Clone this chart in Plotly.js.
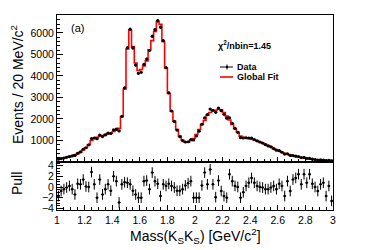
<!DOCTYPE html>
<html>
<head>
<meta charset="utf-8">
<script src="https://cdn.plot.ly/plotly-3.0.1.min.js"></script>
<style>html,body{margin:0;padding:0;background:#fff;}#chart{width:374px;height:250px;}</style>
</head>
<body>
<div id="chart"></div>
<script>
// Histogram binning: 100 bins of 20 MeV from 1.0 to 3.0 GeV/c^2
const massMin = 1.0;
const binWidth = 0.02;
const nBins = 100;

// Data (events per bin)
const dataCounts = [
  130,160,185,219,253,283,305,402,470,593,
  663,800,1090,1116,1082,1249,1181,1256,1338,1324,
  1495,1523,1445,2123,3442,5308,6169,5299,4505,4120,
  4170,4534,4782,5181,5843,6146,6568,6264,5637,4383,
  3214,2370,1886,1483,1176,997,929,941,1035,1024,
  1208,1432,1753,2049,2203,2458,2404,2307,2509,2383,
  2218,2038,2056,1796,1558,1380,1131,1116,1127,1116,
  1115,1046,986,930,877,809,749,707,625,551,
  524,454,366,381,307,303,277,256,207,212,
  170,168,132,115,92,95,92,65,77,48
];

// Global fit (expected events per bin)
const fitCounts = [
  150,170,190,220,250,290,330,390,460,560,
  660,800,1000,1100,1150,1200,1230,1270,1320,1350,
  1420,1480,1560,2100,3390,5250,6130,5350,4600,4250,
  4300,4460,4700,5210,5640,6060,6520,6400,5600,4370,
  3180,2360,1890,1510,1200,1010,920,920,1000,1090,
  1280,1510,1740,1930,2180,2300,2380,2400,2450,2420,
  2300,2130,1950,1750,1550,1380,1200,1150,1120,1090,
  1060,1020,980,930,880,820,760,710,620,560,
  510,450,400,360,320,280,250,220,200,180,
  160,140,125,115,100,90,85,80,75,70
];

// Pull per bin
const pulls = [
  -1.7,-0.75,-0.4,-0.1,0.2,-0.4,-1.4,0.6,0.5,1.4,
  0.1,0,2.8,0.5,-2,1.4,-1.4,-0.4,0.5,-0.7,
  2.0,1.1,-2.9,0.5,0.9,0.8,0.5,-0.7,-1.4,-2,
  -2,1.1,1.2,-0.4,2.7,1.1,0.6,-1.7,0.5,0.2,
  0.6,0.2,-0.1,-0.7,-0.7,-0.4,0.3,0.7,1.1,-2,
  -2,-2,0.3,2.7,0.5,3.3,0.5,-1.9,1.2,-0.75,
  -1.7,-2,2.4,1.1,0.2,0,-2,-1,0.2,0.8,
  1.7,0.8,0.2,0,-0.1,-0.4,-0.4,-0.1,0.2,-0.4,
  0.6,0.2,-1.7,1.1,-0.75,1.4,1.7,2.4,0.5,2.4,
  0.8,2.4,0.6,0,-0.75,0.5,0.8,-1.7,0.2,-2.6
];

const xTickVals = [1,1.2,1.4,1.6,1.8,2,2.2,2.4,2.6,2.8,3];
const xTickText = ['1','1.2','1.4','1.6','1.8','2','2.2','2.4','2.6','2.8','3'];
const yTopTickVals = [1000,2000,3000,4000,5000,6000];
const yPullTickVals = [-4,-2,0,2,4];

// bin grid
const centers = [];
const edges = [];
for (let i = 0; i < nBins; i++) {
  edges.push(+(massMin + i * binWidth).toFixed(4));
  centers.push(+(massMin + (i + 0.5) * binWidth).toFixed(4));
}
edges.push(+(massMin + nBins * binWidth).toFixed(4));
const fitStep = fitCounts.concat([fitCounts[fitCounts.length - 1]]);

const FONT = 'Liberation Sans, Arial, Helvetica, sans-serif';

const traces = [
  {
    x: edges, y: fitStep, xaxis: 'x2', yaxis: 'y',
    type: 'scatter', mode: 'lines', line: {shape: 'hv', color: '#ff0000', width: 1.6},
    hoverinfo: 'skip', showlegend: false
  },
  {
    x: centers, y: dataCounts, xaxis: 'x2', yaxis: 'y',
    type: 'scatter', mode: 'markers',
    marker: {color: '#000', size: 3.2},
    error_y: {type: 'sqrt', color: '#000', thickness: 1, width: 0},
    error_x: {type: 'constant', value: binWidth / 2, color: '#000', thickness: 1, width: 0},
    showlegend: false
  },
  {
    x: centers, y: pulls, xaxis: 'x', yaxis: 'y2',
    type: 'scatter', mode: 'markers',
    marker: {color: '#000', size: 2.5},
    error_y: {type: 'constant', value: 1, color: '#000', thickness: 1, width: 0},
    error_x: {type: 'constant', value: binWidth / 2, color: '#000', thickness: 1, width: 0},
    showlegend: false
  }
];

const L = 57, R = 333, T = 15, B = 210;
const px = v => (v - L) / (R - L);
const py = v => (B - v) / (B - T);

const layout = {
  width: 374, height: 250,
  margin: {l: L, r: 374 - R, t: T, b: 250 - B},
  paper_bgcolor: '#fff', plot_bgcolor: '#fff',
  font: {family: FONT, size: 11, color: '#000'},
  showlegend: false,
  xaxis: {
    anchor: 'y2', domain: [0, 1], range: [1, 3],
    tickvals: xTickVals, ticktext: xTickText,
    ticks: 'inside', ticklen: 5, tickcolor: '#000', tickwidth: 1,
    minor: {dtick: 0.05, ticks: 'inside', ticklen: 3, tickcolor: '#000', showgrid: false},
    showline: true, linecolor: '#000', linewidth: 1, mirror: true,
    showgrid: false, zeroline: false,
    tickfont: {family: FONT, size: 10.5, color: '#000'}
  },
  xaxis2: {
    anchor: 'y', matches: 'x', range: [1, 3], showticklabels: false,
    tickvals: xTickVals,
    ticks: 'inside', ticklen: 5, tickcolor: '#000', tickwidth: 1,
    minor: {dtick: 0.05, ticks: 'inside', ticklen: 3, tickcolor: '#000', showgrid: false},
    showline: true, linecolor: '#000', linewidth: 1, mirror: true,
    showgrid: false, zeroline: false
  },
  yaxis: {
    anchor: 'x2', domain: [(B - 162) / (B - T), 1], range: [0, 6830],
    tickvals: yTopTickVals,
    ticks: 'inside', ticklen: 6, tickcolor: '#000', tickwidth: 1,
    minor: {dtick: 200, ticks: 'inside', ticklen: 3, tickcolor: '#000', showgrid: false},
    showline: true, linecolor: '#000', linewidth: 1, mirror: true,
    showgrid: false, zeroline: false,
    tickfont: {family: FONT, size: 10.5, color: '#000'}
  },
  yaxis2: {
    anchor: 'x', domain: [0, (B - 162) / (B - T)], range: [-4.31, 4.69],
    tickvals: yPullTickVals,
    ticks: 'inside', ticklen: 6, tickcolor: '#000', tickwidth: 1,
    minor: {dtick: 0.5, ticks: 'inside', ticklen: 3, tickcolor: '#000', showgrid: false},
    showline: true, linecolor: '#000', linewidth: 1, mirror: true,
    showgrid: false, zeroline: false,
    tickfont: {family: FONT, size: 10.5, color: '#000'}
  },
  shapes: [
    {type: 'line', xref: 'paper', yref: 'paper', x0: px(220), x1: px(233), y0: py(67), y1: py(67), line: {color: '#000', width: 1}},
    {type: 'line', xref: 'paper', yref: 'paper', x0: px(227), x1: px(227), y0: py(64.5), y1: py(69.5), line: {color: '#000', width: 1}},
    {type: 'circle', xref: 'paper', yref: 'paper', x0: px(225.8), x1: px(228.2), y0: py(65.8), y1: py(68.2), fillcolor: '#000', line: {color: '#000', width: 0}},
    {type: 'line', xref: 'paper', yref: 'paper', x0: px(220), x1: px(233), y0: py(77), y1: py(77), line: {color: '#ff0000', width: 1.6}}
  ],
  annotations: [
    {text: 'Events / 20 MeV/c<sup>2</sup>', xref: 'paper', yref: 'paper', x: px(17), y: py(85), textangle: -90, showarrow: false, xanchor: 'center', yanchor: 'middle', font: {family: FONT, size: 14, color: '#000'}},
    {text: 'Pull', xref: 'paper', yref: 'paper', x: px(17), y: py(184), textangle: -90, showarrow: false, xanchor: 'center', yanchor: 'middle', font: {family: FONT, size: 14, color: '#000'}},
    {text: 'Mass(K<sub>S</sub>K<sub>S</sub>) [GeV/c<sup>2</sup>]', xref: 'paper', yref: 'paper', x: px(195), y: py(235.5), showarrow: false, xanchor: 'center', yanchor: 'middle', font: {family: FONT, size: 14, color: '#000'}},
    {text: '(a)', xref: 'paper', yref: 'paper', x: px(69), y: py(27.5), showarrow: false, xanchor: 'left', yanchor: 'middle', font: {family: FONT, size: 11, color: '#000'}},
    {text: '<b>χ<sup>2</sup>/nbin=1.45</b>', xref: 'paper', yref: 'paper', x: px(216), y: py(45), showarrow: false, xanchor: 'left', yanchor: 'middle', font: {family: FONT, size: 9, color: '#000'}},
    {text: '<b>Data</b>', xref: 'paper', yref: 'paper', x: px(235), y: py(67), showarrow: false, xanchor: 'left', yanchor: 'middle', font: {family: FONT, size: 9, color: '#000'}},
    {text: '<b>Global Fit</b>', xref: 'paper', yref: 'paper', x: px(235), y: py(77), showarrow: false, xanchor: 'left', yanchor: 'middle', font: {family: FONT, size: 9, color: '#000'}}
  ]
};

Plotly.newPlot('chart', traces, layout, {displayModeBar: false, staticPlot: true});
</script>
</body>
</html>
